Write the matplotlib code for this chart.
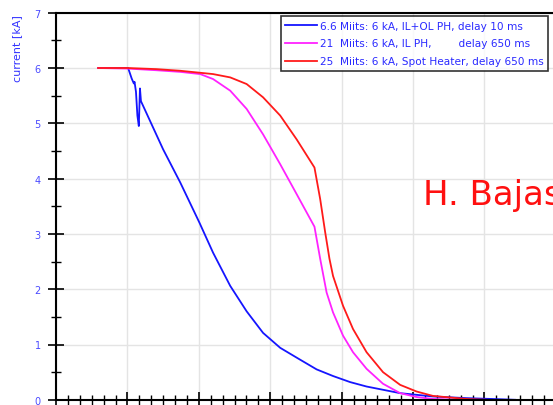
import numpy as np
import matplotlib
matplotlib.use('Agg')
import matplotlib.pyplot as plt
from matplotlib.ticker import MultipleLocator

# time axis in grid units (tick labels are cut off in the reference)
t_blue = [0.59, 1.01, 1.06, 1.09, 1.10, 1.12, 1.14, 1.16, 1.176, 1.19,
          1.50, 1.74, 2.01, 2.20, 2.44, 2.67, 2.90, 3.14, 3.40, 3.65, 3.88,
          4.12, 4.35, 4.82, 5.28, 5.75, 6.22, 6.43]
i_blue = [6.0, 6.0, 5.81, 5.72, 5.75, 5.57, 5.14, 4.95, 5.63, 5.40,
          4.53, 3.93, 3.20, 2.66, 2.06, 1.60, 1.21, 0.94, 0.74, 0.55, 0.43,
          0.32, 0.24, 0.12, 0.06, 0.03, 0.01, 0.0]

t_mag = [0.59, 1.0, 1.4, 1.74, 2.02, 2.20, 2.44, 2.67, 2.90, 3.14, 3.37,
         3.62, 3.70, 3.79, 3.88, 4.02, 4.16, 4.35, 4.58, 4.82, 5.05, 5.28, 5.66]
i_mag = [6.0, 5.99, 5.96, 5.93, 5.89, 5.80, 5.59, 5.26, 4.80, 4.26, 3.72,
         3.13, 2.55, 1.94, 1.58, 1.16, 0.86, 0.56, 0.29, 0.12, 0.05, 0.015, 0.0]

t_red = [0.59, 1.0, 1.4, 1.74, 2.20, 2.44, 2.67, 2.90, 3.14, 3.37, 3.62,
         3.70, 3.77, 3.83, 3.88, 4.02, 4.16, 4.35, 4.58, 4.82, 5.05, 5.28,
         5.75, 6.03]
i_red = [6.0, 6.0, 5.98, 5.95, 5.89, 5.83, 5.71, 5.47, 5.14, 4.71, 4.20,
         3.63, 3.03, 2.55, 2.24, 1.70, 1.28, 0.86, 0.50, 0.27, 0.15, 0.07,
         0.015, 0.0]

labels = ['6.6 Miits: 6 kA, IL+OL PH, delay 10 ms',
          '21  Miits: 6 kA, IL PH,        delay 650 ms',
          '25  Miits: 6 kA, Spot Heater, delay 650 ms']

fig = plt.figure(figsize=(5.53, 4.06), dpi=100)
# axes runs past the right edge of the figure, like the cropped original
y0_px, y7_px = 400.8, 13.7
ax = fig.add_axes([56/553, (406-y0_px)/406, (620-56)/553, (y0_px-y7_px)/406])

ax.plot(t_blue, i_blue, color='#1515ff', lw=1.3, label=labels[0])
ax.plot(t_mag, i_mag, color='#ff22ff', lw=1.3, label=labels[1])
ax.plot(t_red, i_red, color='#ff1a1a', lw=1.3, label=labels[2])

ax.set_xlim(0, (620-56)/71.4)
ax.set_ylim(0, 7)
ax.xaxis.set_major_locator(MultipleLocator(1))
ax.xaxis.set_minor_locator(MultipleLocator(1/6))
ax.yaxis.set_major_locator(MultipleLocator(1))
ax.yaxis.set_minor_locator(MultipleLocator(0.5))
ax.grid(True, which='major', color='#e4e4e4', lw=1)
ax.set_axisbelow(True)

ax.tick_params(which='major', direction='inout', length=12, width=1.2,
               labelsize=7, labelcolor='#4a4aff', pad=5)
ax.tick_params(which='minor', direction='inout', length=7, width=1.0)
ax.tick_params(axis='x', labelbottom=False)
for s in ['left', 'bottom', 'top']:
    ax.spines[s].set_linewidth(1.5)
ax.spines['right'].set_visible(False)

ax.set_ylabel('current [kA]', color='#3333ff', fontsize=8)
ax.yaxis.set_label_coords(-0.06, 0.91)

leg = ax.legend(loc='upper left', bbox_to_anchor=((281-56)/564, (y0_px-17.3)/387.1),
                fontsize=7.6, frameon=True, fancybox=False, edgecolor='black',
                handlelength=3.0, handletextpad=0.3, borderpad=0.4,
                labelspacing=0.75, borderaxespad=0)
leg.get_frame().set_linewidth(1.2)
for txt in leg.get_texts():
    txt.set_color('#2a2aff')

fig.text(423/553, 1 - 205/406, 'H. Bajas', color='#ff1010', fontsize=24.5,
         ha='left', va='baseline')

fig.savefig('out.png', dpi=100)
